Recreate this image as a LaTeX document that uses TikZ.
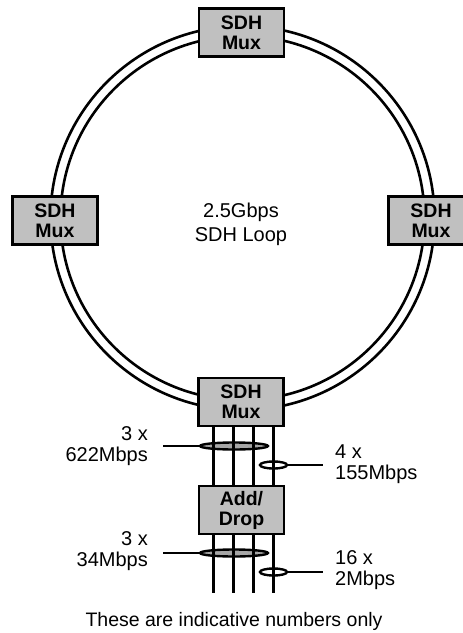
\documentclass[tikz,border=0pt]{standalone}
\usepackage{fontspec}
\setmainfont{Liberation Sans}
\usetikzlibrary{shapes.geometric}
\begin{document}
\begin{tikzpicture}[x=1pt,y=-1pt,
  mux/.style={draw=black,line width=2.6pt,fill=boxgray,minimum width=85pt,minimum height=48pt,inner sep=0pt,align=center,font=\fontsize{19.5}{20}\selectfont\bfseries},
  wire/.style={line width=2.6pt,black},
  lab/.style={font=\fontsize{20}{21}\selectfont,inner sep=0pt},
  ring/.style={line width=2.6pt,black},
  bigell/.style={draw,ellipse,line width=2.4pt,fill=gray!70,minimum width=68pt,minimum height=7pt,inner sep=0pt},
  smallell/.style={draw,ellipse,line width=2.4pt,minimum width=27pt,minimum height=7pt,inner sep=0pt}]
\definecolor{boxgray}{HTML}{C0C0C0}
\useasboundingbox (0,0) rectangle (463,633);
% ring
\coordinate (c) at (242.5,218);
\draw[ring] (c) circle[radius=192];
\draw[ring] (c) circle[radius=182];
% ellipses (drawn under the tributary lines)
\node[bigell] (e1) at (234,446) {};
\node[smallell] (e2) at (273.5,465) {};
\node[bigell] (e3) at (234,553) {};
\node[smallell] (e4) at (273.5,572) {};
% vertical tributaries
\coordinate (b1) at (213.5,593);
\coordinate (b2) at (233.5,593);
\coordinate (b3) at (253.5,593);
\coordinate (b4) at (273.5,593);
\coordinate (t1) at (213.5,410);
\coordinate (t2) at (233.5,410);
\coordinate (t3) at (253.5,410);
\coordinate (t4) at (273.5,410);
\draw[wire] (t1) -- (b1);
\draw[wire] (t2) -- (b2);
\draw[wire] (t3) -- (b3);
\draw[wire] (t4) -- (b4);
% boxes
\node[mux] (top) at (241.5,32.5) {SDH\\Mux};
\node[mux] (left) at (55,220.5) {SDH\\Mux};
\node[mux] (right) at (431,220.5) {SDH\\Mux};
\node[mux] (bot) at (241,402) {SDH\\Mux};
\node[mux] (add) at (241.5,510) {Add/\\Drop};
% ticks
\coordinate (l1) at (163,446);
\coordinate (r2) at (323,465);
\coordinate (l3) at (163,553);
\coordinate (r4) at (323,572);
\draw[wire] (l1) -- (e1.west);
\draw[wire] (e2.east) -- (r2);
\draw[wire] (l3) -- (e3.west);
\draw[wire] (e4.east) -- (r4);
% labels
\node[lab,anchor=east,align=right] (L1) at (148,446) {3 x\\622Mbps};
\node[lab,anchor=west,align=left] (L2) at (335,464) {4 x\\155Mbps};
\node[lab,anchor=east,align=right] (L3) at (148,551) {3 x\\34Mbps};
\node[lab,anchor=west,align=left] (L4) at (335,570) {16 x\\2Mbps};
\node[lab,align=center,font=\fontsize{20}{24}\selectfont] (loop) at (241,224) {2.5Gbps\\SDH Loop};
\node[lab,font=\fontsize{19.5}{24}\selectfont] (note) at (234,621) {These are indicative numbers only};
\end{tikzpicture}
\end{document}
